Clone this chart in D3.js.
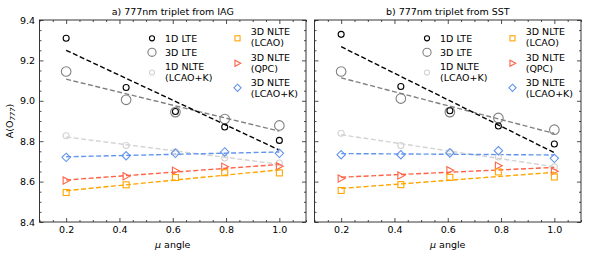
<!DOCTYPE html>
<html><head><meta charset="utf-8">
<script src="https://cdn.jsdelivr.net/npm/d3@7"></script>
<style>
body{margin:0;background:#fff;}
svg text{font-family:"DejaVu Sans",sans-serif;}
</style></head>
<body><svg id="c" width="589" height="257"></svg>
<script>
// ---- data ----
const muIAG = [0.2, 0.425, 0.61, 0.795, 1.0];
const muSST = [0.2, 0.424, 0.608, 0.79, 1.0];
const titles = ["a) 777nm triplet from IAG", "b) 777nm triplet from SST"];
const xTicks = [0.2, 0.4, 0.6, 0.8, 1.0];
const yTicks = [8.4, 8.6, 8.8, 9.0, 9.2, 9.4];

const lte1D_IAG   = [9.31, 9.066, 8.947, 8.870, 8.804];
const lte3D_IAG   = [9.145, 9.005, 8.944, 8.910, 8.878];
const nlte1D_IAG  = [8.827, 8.779, 8.747, 8.717, 8.692];
const lcao3D_IAG  = [8.546, 8.584, 8.620, 8.644, 8.643];
const qpc3D_IAG   = [8.605, 8.626, 8.654, 8.674, 8.676];
const lcaok3D_IAG = [8.720, 8.728, 8.740, 8.747, 8.740];

const lte1D_SST   = [9.329, 9.071, 8.951, 8.875, 8.786];
const lte3D_SST   = [9.145, 9.011, 8.944, 8.915, 8.857];
const nlte1D_SST  = [8.839, 8.779, 8.746, 8.722, 8.673];
const lcao3D_SST  = [8.556, 8.585, 8.621, 8.648, 8.623];
const qpc3D_SST   = [8.615, 8.630, 8.656, 8.679, 8.651];
const lcaok3D_SST = [8.733, 8.733, 8.742, 8.753, 8.715];

const seriesNames = ["1D LTE","3D LTE","1D NLTE\n(LCAO+K)","3D NLTE\n(LCAO)","3D NLTE\n(QPC)","3D NLTE\n(LCAO+K)"];
const seriesColors = ["#000000","#808080","#d3d3d3","#ffa500","#ff6347","#6495ed"];
const seriesMarkers = ["circle","bigcircle","circle","square","triangle","diamond"];

const panels = [
  {title: titles[0], mu: muIAG, vals:[lte1D_IAG,lte3D_IAG,nlte1D_IAG,lcao3D_IAG,qpc3D_IAG,lcaok3D_IAG]},
  {title: titles[1], mu: muSST, vals:[lte1D_SST,lte3D_SST,nlte1D_SST,lcao3D_SST,qpc3D_SST,lcaok3D_SST]}
];

// ---- layout ----
const svg = d3.select("#c");
const plotTop = 20, plotBottom = 222, pw = 266.5;
const lefts = [39.5, 314.5];
const fs = 9.5;

function fit(xs, ys){
  const n = xs.length, mx = d3.mean(xs), my = d3.mean(ys);
  let sxy=0, sxx=0;
  for(let i=0;i<n;i++){sxy+=(xs[i]-mx)*(ys[i]-my); sxx+=(xs[i]-mx)**2;}
  const b = sxy/sxx; return x => my + b*(x-mx);
}

function drawMarker(g, type, cx, cy, color, s){
  s = s || 1;
  const sw = 1.1;
  if(type==="circle"){
    g.append("circle").attr("cx",cx).attr("cy",cy).attr("r",3*s).attr("fill","none").attr("stroke",color).attr("stroke-width",sw);
  } else if(type==="bigcircle"){
    g.append("circle").attr("cx",cx).attr("cy",cy).attr("r",4.8*s).attr("fill","none").attr("stroke",color).attr("stroke-width",sw);
  } else if(type==="square"){
    const h = 3*s;
    g.append("rect").attr("x",cx-h).attr("y",cy-h).attr("width",2*h).attr("height",2*h).attr("fill","none").attr("stroke",color).attr("stroke-width",sw);
  } else if(type==="triangle"){
    g.append("path").attr("d",`M${cx+3.8*s},${cy}L${cx-3*s},${cy-3.6*s}L${cx-3*s},${cy+3.6*s}Z`).attr("fill","none").attr("stroke",color).attr("stroke-width",sw);
  } else if(type==="diamond"){
    const d = 4.2*s;
    g.append("path").attr("d",`M${cx},${cy-d}L${cx+d},${cy}L${cx},${cy+d}L${cx-d},${cy}Z`).attr("fill","none").attr("stroke",color).attr("stroke-width",sw);
  }
}

panels.forEach((p, pi) => {
  const L = lefts[pi];
  const x = d3.scaleLinear().domain([0.1, 1.1]).range([L, L+pw]);
  const y = d3.scaleLinear().domain([8.4, 9.4]).range([plotBottom, plotTop]);
  const g = svg.append("g");

  const order = [2,5,4,3,1,0];
  order.forEach(si => {
    const f = fit(p.mu, p.vals[si]);
    g.append("line").attr("x1",x(0.2)).attr("x2",x(1.0)).attr("y1",y(f(0.2))).attr("y2",y(f(1.0)))
      .attr("stroke",seriesColors[si]).attr("stroke-width",1.4).attr("stroke-dasharray","5,2.5");
  });
  order.forEach(si => {
    p.vals[si].forEach((v,i) => drawMarker(g, seriesMarkers[si], x(p.mu[i]), y(v), seriesColors[si]));
  });

  const minorX = d3.range(0.1, 1.1001, 0.05).map(d=>+d.toFixed(2)).filter(d=>!xTicks.some(t=>Math.abs(t-d)<1e-6));
  const minorY = d3.range(8.4, 9.4001, 0.05).map(d=>+d.toFixed(2)).filter(d=>!yTicks.some(t=>Math.abs(t-d)<1e-6));
  g.append("g").attr("transform",`translate(0,${plotBottom})`)
    .call(d3.axisBottom(x).tickValues(xTicks).tickSize(-4).tickPadding(4).tickFormat(d3.format(".1f")));
  g.append("g").attr("transform",`translate(0,${plotBottom})`).call(d3.axisBottom(x).tickValues(minorX).tickSize(-2).tickFormat(""));
  g.append("g").attr("transform",`translate(0,${plotTop})`).call(d3.axisTop(x).tickValues(xTicks).tickSize(-4).tickFormat(""));
  g.append("g").attr("transform",`translate(0,${plotTop})`).call(d3.axisTop(x).tickValues(minorX).tickSize(-2).tickFormat(""));
  g.append("g").attr("transform",`translate(${L},0)`)
    .call(d3.axisLeft(y).tickValues(yTicks).tickSize(-4).tickPadding(4.5).tickFormat(pi===0?d3.format(".1f"):""));
  g.append("g").attr("transform",`translate(${L},0)`).call(d3.axisLeft(y).tickValues(minorY).tickSize(-2).tickFormat(""));
  g.append("g").attr("transform",`translate(${L+pw},0)`).call(d3.axisRight(y).tickValues(yTicks).tickSize(-4).tickFormat(""));
  g.append("g").attr("transform",`translate(${L+pw},0)`).call(d3.axisRight(y).tickValues(minorY).tickSize(-2).tickFormat(""));
  g.selectAll(".domain").remove();
  g.selectAll(".tick line").attr("stroke","#222").attr("stroke-width",0.8);
  g.selectAll(".tick text").attr("font-size",fs).attr("fill","#000").attr("font-family","DejaVu Sans");
  g.append("rect").attr("x",L).attr("y",plotTop).attr("width",pw).attr("height",plotBottom-plotTop)
    .attr("fill","none").attr("stroke","#222").attr("stroke-width",0.9);

  g.append("text").attr("x",L+pw/2).attr("y",15).attr("text-anchor","middle").attr("font-size",fs).text(p.title);
  const xl = g.append("text").attr("x",L+pw/2).attr("y",248).attr("text-anchor","middle").attr("font-size",fs);
  xl.append("tspan").attr("font-style","italic").text("\u03bc");
  xl.append("tspan").text(" angle");

  const cols = [{mx:L+112.5, tx:L+125.5, items:[0,1,2]}, {mx:L+198, tx:L+211.2, items:[3,4,5]}];
  const rowY = [[38.3, 52.3, 72.2],[37.3, 62.8, 88.3]];
  const mkY  = [[38.3, 52.3, 72.5],[38.3, 63.3, 87.8]];
  cols.forEach((c,ci) => {
    c.items.forEach((si,k) => {
      drawMarker(g, seriesMarkers[si], c.mx, mkY[ci][k], seriesColors[si], 0.85);
      const cy = rowY[ci][k];
      const lines = seriesNames[si].split("\n");
      lines.forEach((ln, li) => {
        const off = lines.length===1 ? 0 : (li===0 ? -5.4 : 5.4);
        g.append("text").attr("x",c.tx).attr("y",cy+off).attr("dy","0.35em").attr("font-size",fs).text(ln);
      });
    });
  });
});

const yl = svg.append("text").attr("transform","translate(12.5,121) rotate(-90)").attr("text-anchor","middle").attr("font-size",fs);
yl.append("tspan").text("A(O");
yl.append("tspan").attr("font-size",6.8).attr("font-style","italic").attr("dy",2).text("777");
yl.append("tspan").attr("dy",-2).text(")");
</script></body></html>
